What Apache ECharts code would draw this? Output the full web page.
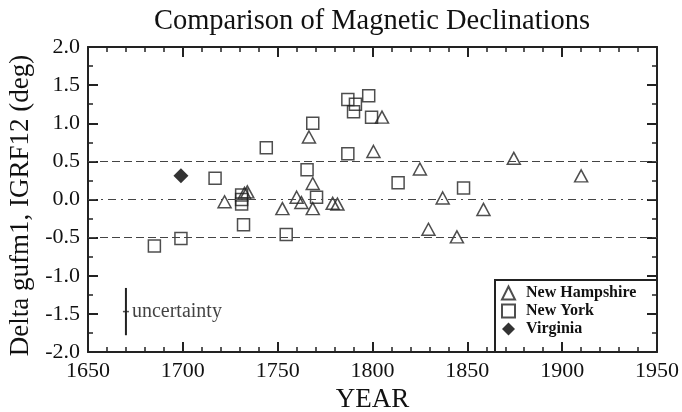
<!DOCTYPE html>
<html>
<head>
<meta charset="utf-8">
<script src="https://cdn.jsdelivr.net/npm/echarts@6/dist/echarts.min.js"></script>
<style>
  html, body { margin: 0; padding: 0; background: #fff; }
  #chart { width: 682px; height: 412px; }
</style>
</head>
<body>
<div id="chart"></div>
<script>
// data: [year, delta declination (deg)]
const newHampshire = [
	[1722, -0.03], [1732.5, 0.08], [1734, 0.10], [1752.5, -0.12], [1760, 0.03],
	[1762.5, -0.04], [1766.5, 0.82], [1768.5, 0.21], [1768.5, -0.12], [1779, -0.05],
	[1781.5, -0.06], [1800.5, 0.63], [1805, 1.08], [1825, 0.40], [1829.5, -0.39],
	[1837, 0.02], [1844.5, -0.49], [1858.5, -0.13], [1874.5, 0.54], [1910, 0.31]
];
const newYork = [
	[1685, -0.61], [1699, -0.51], [1717, 0.28], [1731, 0.06], [1731, 0.0],
	[1731, -0.06], [1732, -0.33], [1744, 0.68], [1754.5, -0.46], [1765.5, 0.39],
	[1768.5, 1.0], [1770.5, 0.03], [1787, 1.31], [1787, 0.60], [1790, 1.15],
	[1791, 1.25], [1798, 1.36], [1799.5, 1.08], [1813.5, 0.22], [1848, 0.15]
];
const virginia = [[1699, 0.31]];
const uncertaintyBar = [[1670, -1.16], [1670, -1.78]];
const uncertaintyMid = [[1670, -1.47]];
const refLines = [0.5, 0, -0.5];

const serif = '"Liberation Serif", "DejaVu Serif", serif';
const axisColor = '#222';

const chart = echarts.init(document.getElementById('chart'));

function xAxisCfg(pos, showLabel) {
	return {
		type: 'value',
		position: pos,
		min: 1650,
		max: 1950,
		interval: 50,
		name: showLabel ? 'YEAR' : '',
		nameLocation: 'middle',
		nameGap: 31,
		nameTextStyle: { fontFamily: serif, fontSize: 27, color: '#111' },
		axisLine: { show: true, onZero: false, lineStyle: { color: axisColor, width: 2 } },
		axisTick: { show: true, inside: true, length: 10, lineStyle: { color: axisColor, width: 2 } },
		minorTick: { show: true, splitNumber: 5, length: 5, lineStyle: { color: axisColor, width: 1.5 } },
		splitLine: { show: false },
		axisLabel: {
			show: showLabel, margin: 8, fontFamily: serif, fontSize: 22, color: '#111',
			formatter: function (v) { return String(v); }
		}
	};
}

function yAxisCfg(pos, showLabel) {
	return {
		type: 'value',
		position: pos,
		min: -2,
		max: 2,
		interval: 0.5,
		name: showLabel ? 'Delta gufm1, IGRF12 (deg)' : '',
		nameLocation: 'middle',
		nameGap: 52,
		nameTextStyle: { fontFamily: serif, fontSize: 27, color: '#111', padding: [0, 12, 0, 0] },
		axisLine: { show: true, onZero: false, lineStyle: { color: axisColor, width: 2 } },
		axisTick: { show: true, inside: true, length: 10, lineStyle: { color: axisColor, width: 2 } },
		minorTick: { show: true, splitNumber: 2, length: 5, lineStyle: { color: axisColor, width: 1.5 } },
		splitLine: { show: false },
		axisLabel: {
			show: showLabel, margin: 8, fontFamily: serif, fontSize: 22, color: '#111',
			formatter: function (v) { return v.toFixed(1); }
		}
	};
}

const option = {
	backgroundColor: '#fff',
	animation: false,
	title: {
		text: 'Comparison of Magnetic Declinations',
		left: 367,
		top: 2,
		textAlign: 'center',
		textStyle: { fontFamily: serif, fontSize: 28.5, fontWeight: 'normal', color: '#111' }
	},
	grid: { left: 88, right: 25, top: 47, bottom: 60, outerBoundsMode: 'none', containLabel: false },
	xAxis: [xAxisCfg('bottom', true), xAxisCfg('top', false)],
	yAxis: [yAxisCfg('left', true), yAxisCfg('right', false)],
	legend: {
		data: ['New Hampshire', 'New York', 'Virginia'],
		orient: 'vertical',
		left: 496,
		top: 280,
		itemWidth: 13,
		itemHeight: 13,
		itemGap: 2,
		textStyle: {
			fontFamily: serif, fontSize: 16, fontWeight: 'bold', color: '#111',
			lineHeight: 16, padding: [0, 0, 0, 6]
		}
	},
	graphic: [{
		type: 'polyline',
		shape: { points: [[495, 352], [495, 280], [657, 280]] },
		style: { stroke: '#222', lineWidth: 2, fill: null }
	}],
	series: [
		{
			name: 'New Hampshire',
			type: 'scatter',
			symbol: 'triangle',
			symbolSize: [13, 12],
			itemStyle: { color: 'rgba(255,255,255,0)', borderColor: '#222', borderWidth: 1.5 },
			data: newHampshire,
			z: 3
		},
		{
			name: 'New York',
			type: 'scatter',
			symbol: 'rect',
			symbolSize: 12,
			itemStyle: { color: 'rgba(255,255,255,0)', borderColor: '#222', borderWidth: 1.5 },
			data: newYork,
			z: 3
		},
		{
			name: 'Virginia',
			type: 'scatter',
			symbol: 'diamond',
			symbolSize: 15,
			itemStyle: { color: '#000' },
			data: virginia,
			z: 4,
			markLine: {
				silent: true,
				symbol: 'none',
				label: { show: false },
				data: refLines.map(function (v) {
					return {
						yAxis: v,
						lineStyle: {
							color: '#444',
							width: 1.2,
							type: v === 0 ? [8, 5, 2, 5] : [8, 4]
						}
					};
				})
			}
		},
		{
			name: 'uncertainty',
			type: 'line',
			symbol: 'none',
			lineStyle: { color: '#222', width: 2 },
			data: uncertaintyBar
		},
		{
			name: 'uncertaintyLabel',
			type: 'scatter',
			symbol: 'rect',
			symbolSize: [6, 1.5],
			itemStyle: { color: '#222' },
			label: {
				show: true,
				position: 'right',
				distance: 3,
				formatter: 'uncertainty',
				fontFamily: serif,
				fontSize: 20,
				color: '#111'
			},
			data: uncertaintyMid
		}
	]
};

chart.setOption(option);
</script>
</body>
</html>
